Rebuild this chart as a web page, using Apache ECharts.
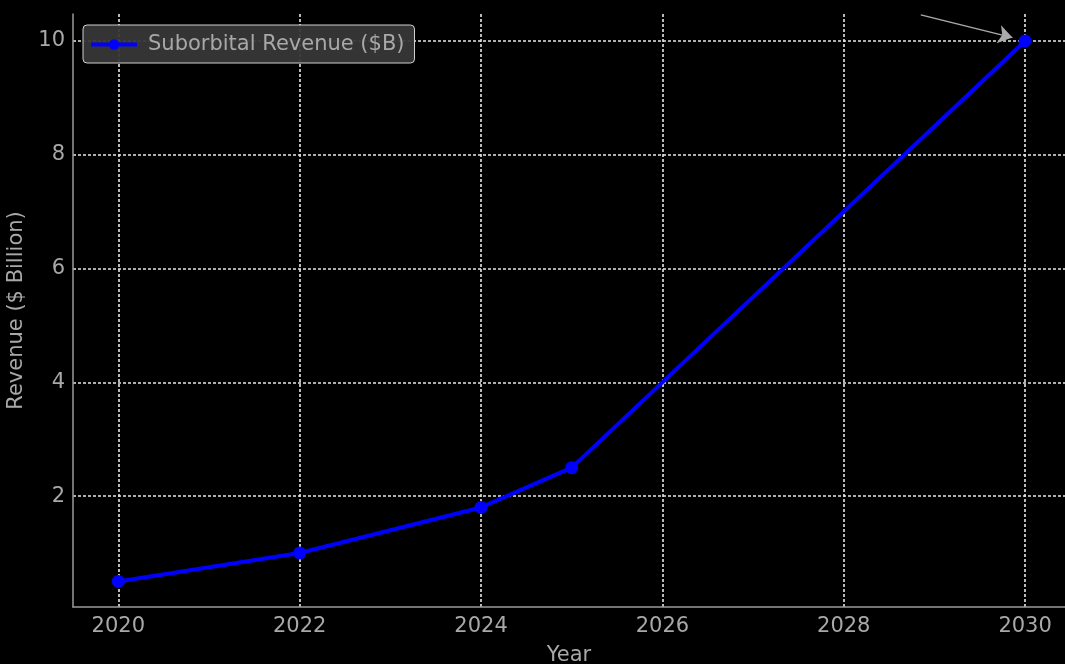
<!DOCTYPE html>
<html>
<head>
<meta charset="utf-8">
<script src="https://cdn.jsdelivr.net/npm/echarts@6/dist/echarts.min.js"></script>
<style>
  html, body { margin: 0; padding: 0; background: #000; }
  #chart { width: 1065px; height: 664px; }
</style>
</head>
<body>
<div id="chart"></div>
<script>
// Suborbital revenue by year ($ billion)
const years = [2020, 2022, 2024, 2025, 2030];
const revenue = [0.5, 1.0, 1.8, 2.5, 10.0];
const xTicks = [2020, 2022, 2024, 2026, 2028, 2030];
const yTicks = [2, 4, 6, 8, 10];
const seriesName = 'Suborbital Revenue ($B)';

const textColor = '#a8a8a8';
const font = 'DejaVu Sans';
const gridLine = { show: true, lineStyle: { color: '#e6e6e6', width: 1.6, type: [3, 2] } };

const chart = echarts.init(document.getElementById('chart'));
chart.setOption({
  backgroundColor: '#000',
  animation: false,
  textStyle: { fontFamily: font },
  grid: { left: 73, right: 0, top: 14, bottom: 57, outerBoundsMode: 'none', containLabel: false },
  legend: {
    left: 83, top: 25,
    backgroundColor: 'rgba(55,55,55,0.95)',
    borderColor: '#cfcfcf', borderWidth: 1, borderRadius: 4,
    padding: [9, 10, 8, 6],
    itemWidth: 46, itemHeight: 13, itemGap: 10,
    lineStyle: { width: 4 },
    textStyle: { color: textColor, fontSize: 21, fontFamily: font, padding: [0, 0, 0, 6] },
    data: [seriesName]
  },
  xAxis: {
    type: 'value',
    min: 2019.5, max: 2030.44,
    name: 'Year', nameLocation: 'middle', nameGap: 38,
    nameTextStyle: { color: textColor, fontSize: 21, fontFamily: font },
    axisLine: { show: true, onZero: false, lineStyle: { color: '#9a9a9a', width: 1.5 } },
    axisTick: { show: false, customValues: xTicks },
    axisLabel: { customValues: xTicks, color: textColor, fontSize: 21, margin: 9, fontFamily: font, formatter: v => String(v) },
    splitLine: gridLine
  },
  yAxis: {
    type: 'value',
    min: 0.05, max: 10.475,
    name: 'Revenue ($ Billion)', nameLocation: 'middle', nameGap: 43,
    nameTextStyle: { color: textColor, fontSize: 21, fontFamily: font },
    axisLine: { show: true, onZero: false, lineStyle: { color: '#9a9a9a', width: 1.5 } },
    axisTick: { show: false, customValues: yTicks },
    axisLabel: { customValues: yTicks, color: textColor, fontSize: 21, margin: 8, fontFamily: font, formatter: v => String(v) },
    splitLine: gridLine
  },
  series: [{
    name: seriesName,
    type: 'line',
    data: years.map((y, i) => [y, revenue[i]]),
    symbol: 'circle', symbolSize: 13,
    itemStyle: { color: '#0000ff' },
    lineStyle: { color: '#0000ff', width: 4 },
    clip: false,
    markLine: {
      silent: true,
      label: { show: false },
      lineStyle: { color: '#aaaaaa', width: 1.5, type: 'solid' },
      data: [[
        { coord: [2028.85, 10.46], symbol: 'none' },
        { coord: [2029.86, 10.06], symbol: 'arrow', symbolSize: 14,
          itemStyle: { color: '#000', borderColor: '#aaaaaa', borderWidth: 1.2 } }
      ]]
    }
  }]
});
</script>
</body>
</html>
